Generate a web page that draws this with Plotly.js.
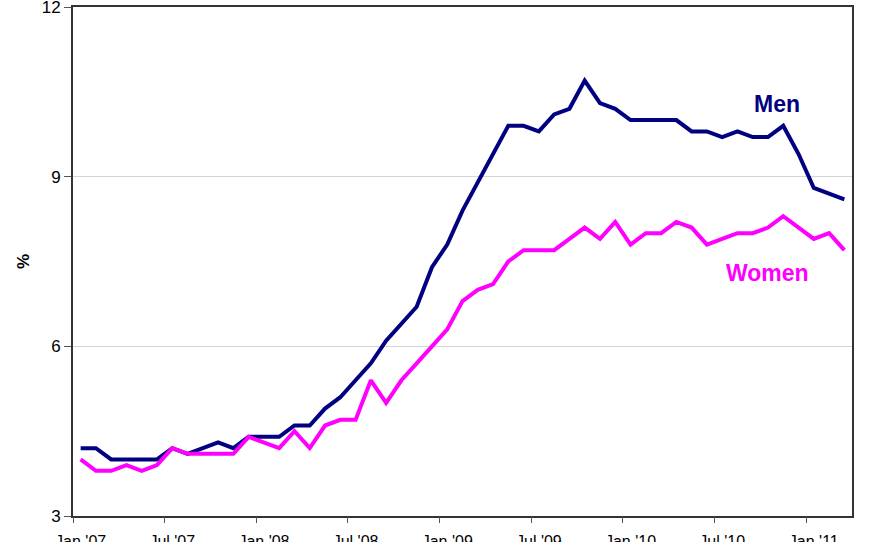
<!DOCTYPE html>
<html>
<head>
<meta charset="utf-8">
<script src="https://cdn.plot.ly/plotly-3.0.1.min.js"></script>
<style>html,body{margin:0;padding:0;background:#fff;}#chart{width:880px;height:542px;}</style>
</head>
<body>
<div id="chart"></div>
<script>
// Month categories Jan '07 .. Mar '11
const monthNames = ["Jan","Feb","Mar","Apr","May","Jun","Jul","Aug","Sep","Oct","Nov","Dec"];
const years = ["07","08","09","10","11"];
const months = [];
years.forEach(y => monthNames.forEach(m => months.push(m + " '" + y)));
months.length = 51;

const menRate = [4.2,4.2,4.0,4.0,4.0,4.0,4.2,4.1,4.2,4.3,4.2,4.4,4.4,4.4,4.6,4.6,4.9,5.1,5.4,5.7,
  6.1,6.4,6.7,7.4,7.8,8.4,8.9,9.4,9.9,9.9,9.8,10.1,10.2,10.7,10.3,10.2,10.0,10.0,10.0,10.0,
  9.8,9.8,9.7,9.8,9.7,9.7,9.9,9.4,8.8,8.7,8.6];
const womenRate = [4.0,3.8,3.8,3.9,3.8,3.9,4.2,4.1,4.1,4.1,4.1,4.4,4.3,4.2,4.5,4.2,4.6,4.7,4.7,5.4,
  5.0,5.4,5.7,6.0,6.3,6.8,7.0,7.1,7.5,7.7,7.7,7.7,7.9,8.1,7.9,8.2,7.8,8.0,8.0,8.2,
  8.1,7.8,7.9,8.0,8.0,8.1,8.3,8.1,7.9,8.0,7.7];

const tickLabels = months.filter(m => m.startsWith("Jan") || m.startsWith("Jul"));
const yTicks = [3, 6, 9, 12];
const boundaryTicks = months.map((m, i) => i).filter(i => months[i].startsWith("Jan") || months[i].startsWith("Jul")).map(i => i - 0.5);

const traces = [
  {x: months, y: menRate, type: "scatter", mode: "lines", name: "Men",
   line: {color: "#000080", width: 4}, hoverinfo: "skip"},
  {x: months, y: womenRate, type: "scatter", mode: "lines", name: "Women",
   line: {color: "#FF00FF", width: 4}, hoverinfo: "skip"},
  {x: [], y: [], xaxis: "x2", type: "scatter", mode: "lines", showlegend: false}
];

const layout = {
  width: 880, height: 542,
  margin: {l: 73, r: 28, t: 7, b: 26},
  paper_bgcolor: "#fff", plot_bgcolor: "#fff",
  showlegend: false,
  font: {family: "Liberation Sans, Arial, sans-serif", color: "#000", size: 16},
  xaxis: {
    type: "category", range: [-0.5, months.length - 0.5],
    tickvals: tickLabels, ticktext: tickLabels,
    ticks: "", showgrid: false, zeroline: false,
    showline: true, mirror: true, linecolor: "#333", linewidth: 2,
    tickfont: {size: 16}, ticklabelstandoff: 10
  },
  xaxis2: {
    overlaying: "x", anchor: "y", type: "linear",
    range: [-0.5, months.length - 0.5],
    tickvals: boundaryTicks, ticks: "outside", ticklen: 6, tickwidth: 1, tickcolor: "#555",
    showticklabels: false, showgrid: false, zeroline: false, showline: false
  },
  yaxis: {
    range: [3, 12], tickvals: yTicks, ticktext: yTicks.map(String),
    ticks: "outside", ticklen: 7, tickwidth: 1, tickcolor: "#555",
    showgrid: true, gridcolor: "#d4d4d4", gridwidth: 1, zeroline: false,
    showline: true, mirror: true, linecolor: "#333", linewidth: 2,
    tickfont: {size: 17}, ticklabeloverflow: "allow",
    title: {text: "<b>%</b>", font: {size: 17}, standoff: 8}
  },
  annotations: [
    {x: "Oct '10", y: 10.28, text: "<b>Men</b>", showarrow: false, xshift: 9,
     font: {size: 23, color: "#000080"}, xanchor: "center", yanchor: "middle"},
    {x: "Oct '10", y: 7.3, text: "<b>Women</b>", showarrow: false,
     font: {size: 23, color: "#FF00FF"}, xanchor: "center", yanchor: "middle"}
  ]
};

Plotly.newPlot("chart", traces, layout, {staticPlot: true, displayModeBar: false});
</script>
</body>
</html>
